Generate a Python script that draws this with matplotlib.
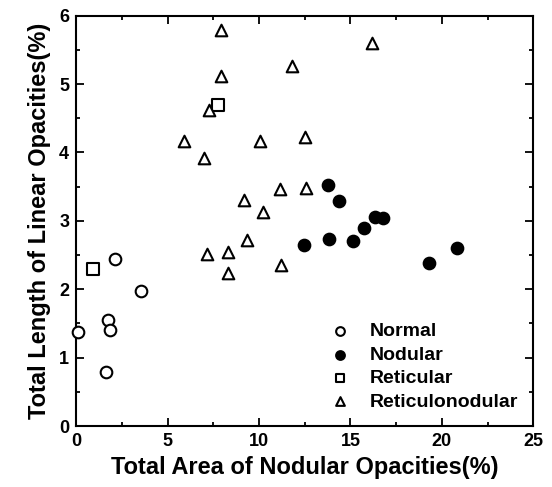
import numpy as np
import matplotlib.pyplot as plt

plt.rcParams['font.family'] = ['Liberation Sans', 'DejaVu Sans']
plt.rcParams['font.weight'] = 'bold'

# data
normal_x = [0.1, 2.13, 3.53, 1.73, 1.86, 1.62]
normal_y = [1.37, 2.44, 1.97, 1.55, 1.41, 0.79]

nodular_x = [13.79, 14.35, 16.34, 16.76, 15.74, 12.46, 13.83, 15.12, 19.3, 20.82]
nodular_y = [3.52, 3.29, 3.06, 3.04, 2.90, 2.64, 2.73, 2.70, 2.39, 2.61]

reticular_x = [0.91, 7.74]
reticular_y = [2.29, 4.69]

retnod_x = [7.92, 7.92, 7.27, 11.82, 16.2, 5.92, 6.99, 10.05, 12.5, 9.16,
            10.22, 11.15, 12.55, 7.14, 8.29, 8.29, 9.33, 11.2]
retnod_y = [5.79, 5.12, 4.62, 5.26, 5.6, 4.16, 3.92, 4.16, 4.23, 3.31,
            3.13, 3.46, 3.48, 2.51, 2.55, 2.24, 2.72, 2.35]

xticks = [0, 5, 10, 15, 20, 25]
yticks = [0, 1, 2, 3, 4, 5, 6]

fig = plt.figure(figsize=(5.52, 4.87), dpi=100)
ax = fig.add_axes([0.138, 0.125, 0.828, 0.843])

kw = dict(s=70, linewidths=1.5, edgecolors='black', clip_on=False, zorder=3)
ax.scatter(normal_x, normal_y, marker='o', facecolors='white', label='Normal', **kw)
ax.scatter(nodular_x, nodular_y, marker='o', facecolors='black', label='Nodular', **kw)
ax.scatter(reticular_x, reticular_y, marker='s', facecolors='white', label='Reticular', **kw)
ax.scatter(retnod_x, retnod_y, marker='^', facecolors='white', label='Reticulonodular', **kw)

ax.set_xlim(0, 25)
ax.set_ylim(0, 6)
ax.set_xticks(xticks)
ax.set_yticks(yticks)
ax.set_xticks(np.arange(0, 25.1, 2.5), minor=True)
ax.set_yticks(np.arange(0, 6.1, 0.5), minor=True)
ax.tick_params(which='both', direction='in', top=True, right=True, width=1.3)
ax.tick_params(which='major', length=6, labelsize=13, pad=5)
ax.tick_params(which='minor', length=3)
for lab in ax.get_xticklabels() + ax.get_yticklabels():
    lab.set_fontweight('bold')
for sp in ax.spines.values():
    sp.set_linewidth(1.5)

ax.set_xlabel('Total Area of Nodular Opacities(%)', fontsize=17, fontweight='bold', labelpad=4)
ax.set_ylabel('Total Length of Linear Opacities(%)', fontsize=17, fontweight='bold', labelpad=6)

leg = ax.legend(loc='lower right', frameon=False, fontsize=14, handletextpad=0.5,
                labelspacing=0.3, borderaxespad=0.4, scatterpoints=1, markerscale=0.75)
for t in leg.get_texts():
    t.set_fontweight('bold')

plt.savefig('out.png', dpi=100)
